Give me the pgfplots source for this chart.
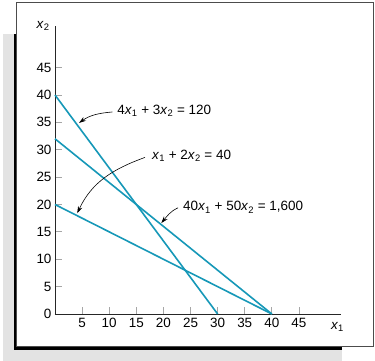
\documentclass[border=0pt]{standalone}
\usepackage{fontspec}
\setmainfont{Liberation Sans}
\usepackage{pgfplots}
\pgfplotsset{compat=1.18}
\usetikzlibrary{arrows.meta}
\definecolor{teal1}{RGB}{22,152,184}
\newcommand{\xs}[1]{\textit{x}\textsubscript{#1}}
\begin{document}
\begin{tikzpicture}
\useasboundingbox (-55bp,-47bp) rectangle (320bp,314bp);
\fill[black!11] (-52bp,-47bp) rectangle (286.5bp,280bp);
\fill[black] (-41bp,-36bp) rectangle (286.5bp,280bp);
\filldraw[fill=white,draw=black!70,line width=1bp] (-38bp,-32.5bp) rectangle (318bp,311.5bp);
\begin{axis}[
  scale only axis, width=285.7bp, height=288bp,
  at={(0,0)}, anchor=south west,
  clip=false,
  axis x line=bottom, axis y line=left,
  axis line style={-, black!85, line width=0.8bp},
  xmin=0, xmax=52.7, ymin=0, ymax=52.6,
  xtick={5,10,...,45}, ytick={0,5,...,45},
  tick align=inside, major tick length=7bp,
  tick style={black!35, line width=0.8bp},
  tick label style={font=\fontsize{13.5}{15}\selectfont},
  /pgf/number format/assume math mode=true,
  xticklabel style={yshift=-1bp},
  yticklabel style={xshift=0bp},
]
\addplot[teal1, line width=1.6bp] coordinates {(0,40) (30,0)};
\addplot[teal1, line width=1.6bp] coordinates {(0,20) (40,0)};
\addplot[teal1, line width=1.6bp] coordinates {(0,32) (40,0)};
\node[font=\fontsize{13.5}{15}\selectfont] at (axis cs:-2.2,52.6) {\xs{2}};
\node[font=\fontsize{13.5}{15}\selectfont] at (axis cs:52.1,-2.4) {\xs{1}};
\node[anchor=west, font=\fontsize{13.5}{15}\selectfont, inner sep=0pt] at (axis cs:11.45,37.1) {4\xs{1} + 3\xs{2} = 120};
\node[anchor=west, font=\fontsize{13.5}{15}\selectfont, inner sep=0pt] at (axis cs:17.9,28.9) {\xs{1} + 2\xs{2} = 40};
\node[anchor=west, font=\fontsize{13.5}{15}\selectfont, inner sep=0pt] at (axis cs:23.6,19.5) {40\xs{1} + 50\xs{2} = 1,600};
\draw[-{Stealth[length=7bp,width=4.5bp]}, line width=0.6bp] (axis cs:10.6,36.9) to[out=185, in=35] (axis cs:4.43,34.9);
\draw[-{Stealth[length=7bp,width=4.5bp]}, line width=0.6bp] (axis cs:16.6,28.6) to[out=200, in=65] (axis cs:4.1,18.4);
\draw[-{Stealth[length=7bp,width=4.5bp]}, line width=0.6bp] (axis cs:22.7,19.4) to[out=205, in=50] (axis cs:19.6,16.6);
\end{axis}
\end{tikzpicture}
\end{document}
